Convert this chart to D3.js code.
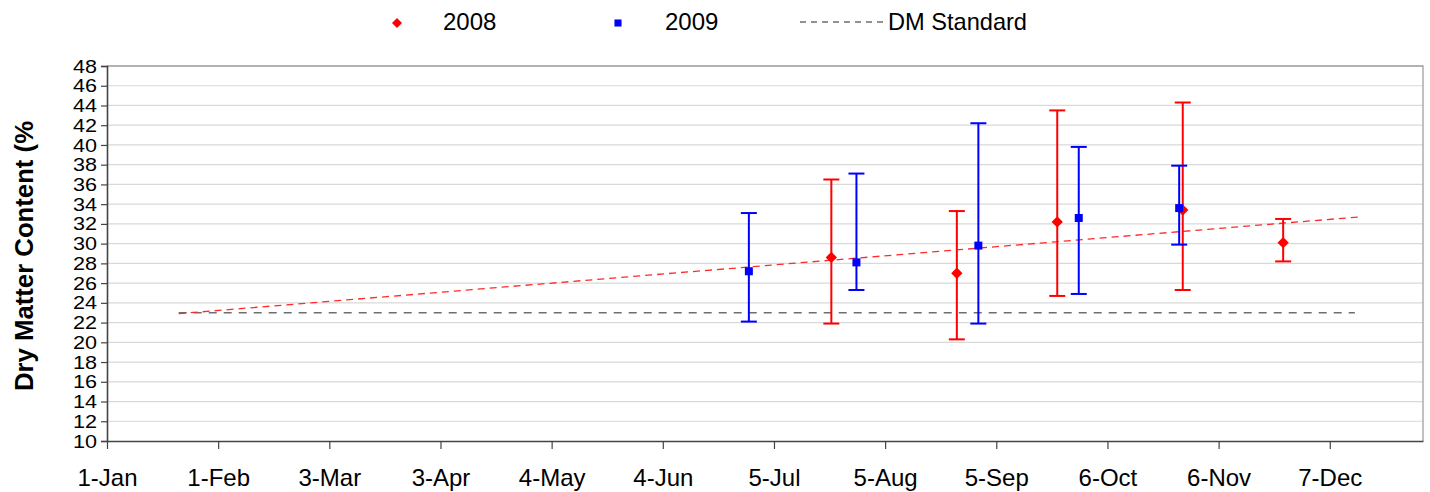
<!DOCTYPE html>
<html><head><meta charset="utf-8">
<script src="https://cdn.jsdelivr.net/npm/d3@7"></script>
<style>body{margin:0;background:#fff}svg{display:block;font-family:"Liberation Sans",Arial,sans-serif}</style>
</head><body><svg id="c" width="1430" height="492"></svg>
<script>
// Data
const dates2008 = ["2008-07-21","2008-08-25","2008-09-22","2008-10-27","2008-11-24"];
const values2008 = [28.6, 27.0, 32.2, 33.4, 30.1];
const low2008 = [21.9, 20.3, 24.7, 25.3, 28.2];
const high2008 = [36.5, 33.3, 43.5, 44.3, 32.5];
const dates2009 = ["2008-06-28","2008-07-28","2008-08-31","2008-09-28","2008-10-26"];
const values2009 = [27.2, 28.1, 29.8, 32.6, 33.6];
const low2009 = [22.1, 25.3, 21.9, 24.9, 29.9];
const high2009 = [33.1, 37.1, 42.2, 39.8, 37.9];
const standardDates = ["2008-01-21","2008-12-14"];
const standardValues = [23, 23];
const trendDates = ["2008-01-21","2008-12-15"];
const trendValues = [22.9, 32.7];
const xTickDates = ["2008-01-01","2008-02-01","2008-03-03","2008-04-03","2008-05-04","2008-06-04","2008-07-05","2008-08-05","2008-09-05","2008-10-06","2008-11-06","2008-12-07"];
const xTickLabels = ["1-Jan","1-Feb","3-Mar","3-Apr","4-May","4-Jun","5-Jul","5-Aug","5-Sep","6-Oct","6-Nov","7-Dec"];
const yTicks = d3.range(10, 49, 2);
const seriesNames = ["2008","2009","DM Standard"];

const parse = d3.timeParse("%Y-%m-%d");
const svg = d3.select("#c");
const L = 107, R = 1423, T = 66, B = 441;
const x = d3.scaleTime().domain([parse("2008-01-01"), parse("2009-01-02")]).range([L, R]);
const y = d3.scaleLinear().domain([10, 48]).range([B, T]);
const FONT = "Liberation Sans, Arial, sans-serif";

// gridlines
svg.append("g").selectAll("line").data(yTicks.filter(d => d > 10)).join("line")
  .attr("x1", L).attr("x2", R).attr("y1", d => y(d)).attr("y2", d => y(d))
  .attr("stroke", "#d9d9d9").attr("stroke-width", 1.2);
// plot border (top/right)
svg.append("path").attr("d", `M${L},${T}H${R}V${B}`).attr("fill", "none").attr("stroke", "#a0a0a0").attr("stroke-width", 1.3);

// axes
const yAxis = svg.append("g").attr("transform", `translate(${L},0)`)
  .call(d3.axisLeft(y).tickValues(yTicks).tickSize(6).tickPadding(4));
yAxis.select(".domain").attr("stroke", "#444").attr("stroke-width", 1.6);
yAxis.selectAll(".tick line").attr("stroke", "#444").attr("stroke-width", 1.2);
yAxis.selectAll("text").attr("font-size", 19).attr("fill", "#000").attr("font-family", FONT)
  .attr("textLength", 24).attr("lengthAdjust", "spacingAndGlyphs");

const xAxis = svg.append("g").attr("transform", `translate(0,${B})`)
  .call(d3.axisBottom(x).tickValues(xTickDates.map(parse)).tickSize(8).tickPadding(20)
    .tickFormat((d, i) => xTickLabels[i]).tickSizeOuter(0));
xAxis.select(".domain").attr("stroke", "#444").attr("stroke-width", 1.6);
xAxis.selectAll(".tick line").attr("stroke", "#444").attr("stroke-width", 1.2);
xAxis.selectAll("text").attr("font-size", 24).attr("fill", "#000").attr("font-family", FONT);

// y title
svg.append("text").attr("transform", "translate(33,256) rotate(-90)").attr("text-anchor", "middle")
  .attr("font-size", 26).attr("font-weight", "bold").attr("textLength", 270).attr("lengthAdjust", "spacingAndGlyphs")
  .text("Dry Matter Content (%");

// standard and trend lines
const line = d3.line().x(d => x(d[0])).y(d => y(d[1]));
svg.append("path").datum(standardDates.map((d, i) => [parse(d), standardValues[i]]))
  .attr("d", line).attr("fill", "none").attr("stroke", "#6e6e6e").attr("stroke-width", 1.6).attr("stroke-dasharray", "8,7");
svg.append("path").datum(trendDates.map((d, i) => [parse(d), trendValues[i]]))
  .attr("d", line).attr("fill", "none").attr("stroke", "#ff2a2a").attr("stroke-width", 1.3).attr("stroke-dasharray", "7,5");

function drawSeries(dates, vals, lo, hi, color, size, rot) {
  const g = svg.append("g");
  const data = dates.map((d, i) => ({x: parse(d), v: vals[i], lo: lo[i], hi: hi[i]}));
  g.selectAll("line.v").data(data).join("line").attr("class", "v")
    .attr("x1", d => x(d.x)).attr("x2", d => x(d.x)).attr("y1", d => y(d.lo)).attr("y2", d => y(d.hi))
    .attr("stroke", color).attr("stroke-width", 2);
  ["lo", "hi"].forEach(k => {
    g.selectAll("line." + k).data(data).join("line").attr("class", k)
      .attr("x1", d => x(d.x) - 8).attr("x2", d => x(d.x) + 8).attr("y1", d => y(d[k])).attr("y2", d => y(d[k]))
      .attr("stroke", color).attr("stroke-width", 2);
  });
  g.selectAll("path").data(data).join("path")
    .attr("transform", d => `translate(${x(d.x)},${y(d.v)}) rotate(${rot})`)
    .attr("d", d3.symbol().type(d3.symbolSquare).size(size)).attr("fill", color);
}
drawSeries(dates2008, values2008, low2008, high2008, "#ff0000", 64, 45);
drawSeries(dates2009, values2009, low2009, high2009, "#0000ff", 64, 0);

// legend
const lg = svg.append("g").attr("font-size", 24).attr("font-family", FONT);
lg.append("path").attr("transform", "translate(397,23) rotate(45)").attr("d", d3.symbol().type(d3.symbolSquare).size(50)).attr("fill", "#ff0000");
lg.append("text").attr("x", 443).attr("y", 30).text(seriesNames[0]);
lg.append("path").attr("transform", "translate(618,23)").attr("d", d3.symbol().type(d3.symbolSquare).size(50)).attr("fill", "#0000ff");
lg.append("text").attr("x", 665).attr("y", 30).text(seriesNames[1]);
lg.append("line").attr("x1", 800).attr("x2", 884).attr("y1", 22).attr("y2", 22)
  .attr("stroke", "#6e6e6e").attr("stroke-width", 1.3).attr("stroke-dasharray", "6,5");
lg.append("text").attr("x", 888).attr("y", 30).attr("textLength", 139).attr("lengthAdjust", "spacingAndGlyphs").text(seriesNames[2]);
</script></body></html>
